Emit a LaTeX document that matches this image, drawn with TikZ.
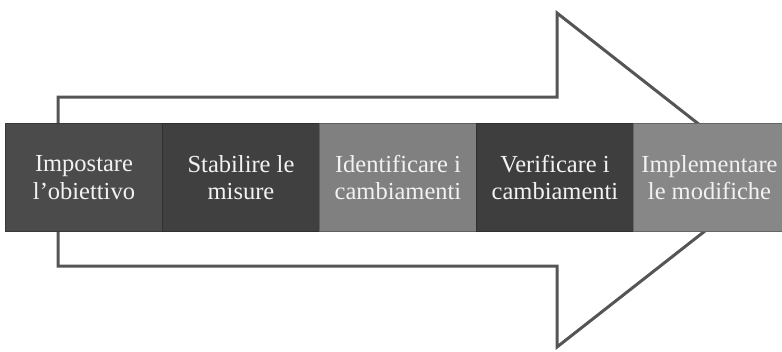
\documentclass[tikz,border=0pt]{standalone}
\usepackage{fontspec}
\setmainfont{Liberation Serif}
\definecolor{arrowgray}{HTML}{555555}
\definecolor{boxA}{HTML}{4B4B4B}
\definecolor{boxB}{HTML}{404040}
\definecolor{boxC}{HTML}{808080}
\definecolor{boxD}{HTML}{3E3E3E}
\definecolor{boxE}{HTML}{878787}
\definecolor{txt}{HTML}{F2F2F2}
\begin{document}
\begin{tikzpicture}[x=1pt,y=-1pt,
  stepbox/.style={draw=#1!75!black, line width=1pt, minimum width=157pt, minimum height=108pt,
    inner sep=0pt, text=txt, align=center,
    font=\fontsize{24.5}{27.5}\selectfont, anchor=north west},
  bigarrow/.style={draw=arrowgray, line width=3pt, line join=miter, fill=white}]
\useasboundingbox (0,0) rectangle (782,351);
\draw[bigarrow] (58,97) -- (557,97) -- (557,13) -- (770,180) -- (557,347) -- (557,266) -- (58,266) -- cycle;
\node[stepbox=boxA, fill=boxA] (s1) at (5,123) {Impostare\\l’obiettivo};
\node[stepbox=boxB, fill=boxB] (s2) at (162,123) {Stabilire le\\misure};
\node[stepbox=boxC, fill=boxC] (s3) at (319,123) {Identificare i\\cambiamenti};
\node[stepbox=boxD, fill=boxD] (s4) at (476,123) {Verificare i\\cambiamenti};
\node[stepbox=boxE, fill=boxE, minimum width=152pt] (s5) at (633,123) {Implementare\\le modifiche};
\end{tikzpicture}
\end{document}
